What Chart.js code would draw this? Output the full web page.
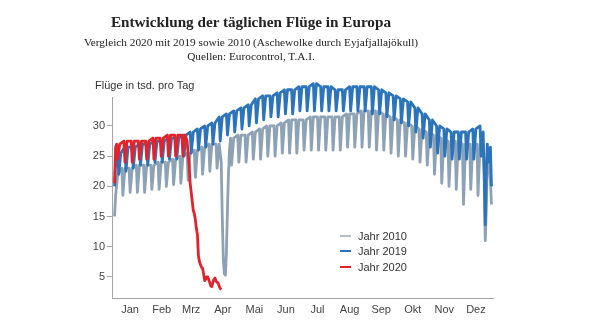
<!DOCTYPE html>
<html>
<head>
<meta charset="utf-8">
<script src="https://cdn.jsdelivr.net/npm/chart.js@4/dist/chart.umd.min.js"></script>
<style>
  body { margin: 0; background: #fff; }
  #wrap { position: relative; width: 613px; height: 330px; }
  #wrap canvas { position: absolute; left: 0; top: 0; }
  .txt { position: absolute; white-space: nowrap; }
  .serif { font-family: "Liberation Serif", "DejaVu Serif", serif; color: #222; }
  .sans { font-family: "Liberation Sans", Arial, sans-serif; color: #333; font-size: 11px; }
  #title { left: 0; width: 502px; text-align: center; top: 13px; font-size: 15.2px; font-weight: bold; }
  #sub { left: 0; width: 502px; text-align: center; top: 36px; font-size: 11.3px; }
  #src { left: 0; width: 502px; text-align: center; top: 50px; font-size: 11.3px; }
  #unit { left: 95px; top: 79px; }
  .leg { left: 340px; }
  .leg i { display: inline-block; width: 11px; height: 2.5px; vertical-align: middle; margin-right: 7px; position: relative; top: -1px; }
</style>
</head>
<body>
<div id="wrap">
  <canvas id="chart" width="613" height="330"></canvas>
  <div id="title" class="txt serif">Entwicklung der täglichen Flüge in Europa</div>
  <div id="sub" class="txt serif">Vergleich 2020 mit 2019 sowie 2010 (Aschewolke durch Eyjafjallajökull)</div>
  <div id="src" class="txt serif">Quellen: Eurocontrol, T.A.I.</div>
  <div id="unit" class="txt sans">Flüge in tsd. pro Tag</div>
  <div class="txt sans leg" style="top:230px"><i style="background:#b5bcc4"></i>Jahr 2010</div>
  <div class="txt sans leg" style="top:245px"><i style="background:#2b74bb"></i>Jahr 2019</div>
  <div class="txt sans leg" style="top:261px"><i style="background:#e3232c"></i>Jahr 2020</div>
</div>
<script>
// x axis: day of year (0 = 1. Januar)
const monthNames = ['Jan', 'Feb', 'Mrz', 'Apr', 'Mai', 'Jun', 'Jul', 'Aug', 'Sep', 'Okt', 'Nov', 'Dez'];
const monthMid = [15, 45.5, 74, 104.5, 135, 165.5, 196, 227, 257.5, 288, 318.5, 349];
const yTicks = [5, 10, 15, 20, 25, 30];

// 2010: weekly plateau level and Saturday dip (first Saturday = day 1)
const top2010 = [22, 23, 23, 23.5, 23.5, 23.5, 24, 24, 24.5, 25, 25.5, 26, 26.5, 27, 27, 27.5,
  28, 28.5, 28.5, 29, 29.5, 30, 30, 30.5, 31, 31, 31, 31.5, 31.5, 31.5, 31.5, 31.5, 32, 32, 32.5,
  32.5, 32.5, 32, 31.5, 31, 30.5, 30, 29.5, 29, 28.5, 28, 27.5, 27.5, 27, 27, 27, 26.5];
const low2010 = [18.5, 18.5, 19, 19, 19, 19.5, 19.5, 20, 20.3, 20.5, 21, 21.5, 22, 22.5, 23, 5.3,
  23.5, 24, 24, 24.5, 24.5, 25, 25, 25.5, 25.5, 25.5, 26, 26, 26, 26, 26, 26, 26.5, 26.5, 26.5,
  26.5, 26, 26, 25.5, 25, 25, 24.5, 24, 23.5, 22, 20.5, 20, 19.5, 17, 19.5, 18.5, 11];
// Neujahr, Aschewolke, Weihnachten
const specDays2010 = [0, 103, 104, 105, 106, 107, 108, 109, 110, 111, 356, 357, 358, 359, 360, 361, 362, 363, 364];
const specVals2010 = [15, 24, 15, 8, 5.5, 5.3, 9, 16, 22, 26, 26, 22, 11, 16, 24, 24, 23, 21, 17];

// 2019 (first Saturday = day 4)
const top2019 = [25.5, 26.5, 26.5, 27, 27, 27.5, 27.5, 28, 28, 28.5, 29, 29.5, 30, 30.5, 31.5, 32,
  32.5, 33, 33.5, 34.5, 35, 35, 35.5, 36, 36, 36.5, 36.5, 37, 36.5, 36.5, 36, 36, 36.5, 36.5, 36.5,
  36.5, 36, 35.5, 35, 34.5, 34, 33, 32, 31, 30, 29.5, 29, 29, 29, 29.5, 30, 28];
const low2019 = [22, 22.5, 23, 23.5, 23.5, 24, 24, 24.5, 24.5, 25, 25.5, 26, 26.5, 27, 27.5, 28.5,
  29, 29.5, 30, 30.5, 31, 31.5, 31.5, 32, 32, 32.5, 32.5, 32.5, 32.5, 32.5, 32.5, 32.5, 32.5, 32.5,
  32.5, 32, 32, 31.5, 31, 30.5, 30, 29, 28, 26.5, 25.5, 25, 24.5, 24.5, 24.5, 24.5, 25, 21];
const specDays2019 = [0, 1, 2, 356, 357, 358, 359, 360, 361, 362, 363, 364];
const specVals2019 = [20, 24, 25.5, 29, 22, 13.6, 22, 27, 24, 26, 26.5, 20];

// 2020 (first Saturday = day 3), then the collapse in March
const top2020 = [27, 27.5, 27.5, 27.5, 27.5, 28, 28, 28.5, 28.5, 28.5];
const low2020 = [24.5, 24, 24, 24.5, 24.5, 24.5, 25, 25, 25, 25];
const specDays2020 = [0, 1, 70, 71, 72, 73, 74, 75, 76, 77, 78, 79, 80, 81, 82, 83, 84, 85, 86,
  87, 88, 89, 90, 91, 92, 93, 94, 95, 96, 97, 98, 99, 100, 101, 102, 103];
const specVals2020 = [20.5, 26.5, 27.5, 25.5, 23.5, 20.5, 19, 17.5, 16, 15.5, 14.5, 13, 12, 8.5,
  7.5, 7, 6.6, 6.4, 5.5, 4.4, 4.6, 5, 5, 4.5, 4, 3.5, 3.4, 4.2, 4.6, 4.8, 4.3, 4.1, 4, 3.5, 3.1, 2.9];

function buildSeries(firstSat, tops, lows, specDays, specVals) {
  const pts = new Map();
  tops.forEach((t, w) => {
    const sat = firstSat + 7 * w;
    pts.set(sat - 1, t);
    pts.set(sat, lows[w]);
    pts.set(sat + 2, t);
  });
  specDays.forEach((d, i) => pts.set(d, specVals[i]));
  return [...pts.entries()].sort((a, b) => a[0] - b[0]).map(([x, y]) => ({ x, y }));
}

const axisColor = '#a6a6a6';
const tickFont = { family: 'Liberation Sans', size: 11 };

const lineStyle = {
  borderWidth: 2.8,
  pointRadius: 0,
  tension: 0,
  clip: false,
  borderJoinStyle: 'round',
};

new Chart(document.getElementById('chart'), {
  type: 'line',
  data: {
    datasets: [
      { ...lineStyle, label: 'Jahr 2020', data: buildSeries(3, top2020, low2020, specDays2020, specVals2020), borderColor: '#e3232c', order: 0 },
      { ...lineStyle, label: 'Jahr 2019', data: buildSeries(4, top2019, low2019, specDays2019, specVals2019), borderColor: '#2b74bb', order: 1 },
      { ...lineStyle, label: 'Jahr 2010', data: buildSeries(1, top2010, low2010, specDays2010, specVals2010), borderColor: '#8ea2b5', order: 2 },
    ],
  },
  options: {
    responsive: false,
    animation: false,
    layout: { padding: { top: 97, right: 120, left: 0, bottom: 0 } },
    plugins: { legend: { display: false }, tooltip: { enabled: false } },
    scales: {
      x: {
        type: 'linear',
        min: -2.5,
        max: 365.5,
        afterBuildTicks: (scale) => { scale.ticks = monthMid.map(v => ({ value: v })); },
        afterFit: (scale) => { scale.height = 32; },
        ticks: {
          autoSkip: false,
          maxRotation: 0,
          color: '#444',
          font: tickFont,
          padding: 5,
          callback: (v) => monthNames[monthMid.indexOf(v)],
        },
        grid: { display: false, drawTicks: false },
        border: { color: axisColor, width: 1 },
      },
      y: {
        min: 1.5,
        max: 34.8,
        afterBuildTicks: (scale) => { scale.ticks = yTicks.map(v => ({ value: v })); },
        afterFit: (scale) => { scale.width = 112; },
        ticks: { color: '#444', font: tickFont, padding: 2 },
        grid: { drawOnChartArea: false, tickLength: 5, color: axisColor },
        border: { color: axisColor, width: 1 },
      },
    },
  },
});
</script>
</body>
</html>
